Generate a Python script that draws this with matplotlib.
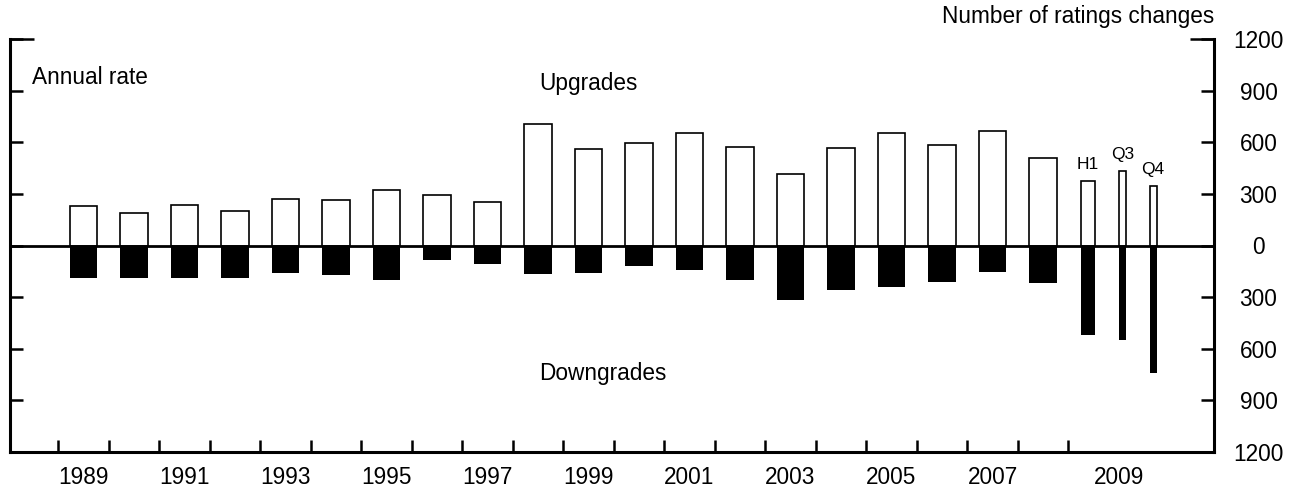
import matplotlib
matplotlib.use("Agg")
import matplotlib.pyplot as plt
import numpy as np

plt.rcParams['font.family'] = ['Liberation Sans', 'DejaVu Sans']

# Annual ratings changes, 1989-2008
years = list(range(1989, 2009))
upgrades = [232, 191, 238, 203, 272, 267, 320, 294, 255, 707,
            560, 595, 654, 572, 413, 568, 656, 585, 666, 510]
downgrades = [186, 191, 186, 191, 162, 174, 200, 87, 108, 166,
              158, 120, 145, 203, 317, 257, 243, 210, 152, 220]

# 2009 sub-periods (annual rates)
period_labels = ['H1', 'Q3', 'Q4']
period_up = [377, 435, 348]
period_down = [522, 551, 742]

year_tick_labels = ['1989', '1991', '1993', '1995', '1997', '1999',
                    '2001', '2003', '2005', '2007', '2009']
y_ticks = [-1200, -900, -600, -300, 0, 300, 600, 900, 1200]

# layout of the 2009 bars (half-year bar is wider than quarters)
period_x = [2008.89, 2009.58, 2010.18]
period_w = [0.28, 0.14, 0.14]

FS = 16.3

fig = plt.figure(figsize=(12.97, 4.87), dpi=100)
ax = fig.add_axes([10 / 1297, 35 / 487, 1204 / 1297, 413 / 487])

ax.bar(years, upgrades, width=0.55, color='white', edgecolor='black', linewidth=1.2, zorder=2)
ax.bar(years, [-d for d in downgrades], width=0.55, color='black', zorder=2)
ax.bar(period_x, period_up, width=period_w, color='white', edgecolor='black', linewidth=1.2, zorder=2)
ax.bar(period_x, [-d for d in period_down], width=period_w, color='black', zorder=2)
ax.axhline(0, color='black', lw=2.0, zorder=3)

for lab, x, v in zip(period_labels, period_x, period_up):
    ax.annotate(lab, (x, v), xytext=(0, 6), textcoords='offset points',
                ha='center', va='bottom', fontsize=12.5)

ax.set_xlim(1987.545, 2011.386)
ax.set_ylim(-1200, 1200)

for s in ['left', 'right', 'bottom']:
    ax.spines[s].set_linewidth(2.2)
ax.spines['top'].set_visible(False)

# x axis: tick marks at year boundaries, labels at odd years
ax.set_xticks(np.arange(1988.5, 2009, 1.0))
ax.set_xticklabels([])
ax.set_xticks([1989, 1991, 1993, 1995, 1997, 1999, 2001, 2003, 2005, 2007, 2009.5], minor=True)
ax.set_xticklabels(year_tick_labels, minor=True)
ax.tick_params(axis='x', which='major', direction='in', length=8.6, width=1.8)
ax.tick_params(axis='x', which='minor', length=0, pad=10, labelsize=FS)

# y axis: ticks on both sides, labels right
ax.yaxis.remove_overlapping_locs = False
ax.set_yticks(y_ticks)
ax.set_yticklabels([str(abs(v)) for v in y_ticks])
ax.set_yticks([1200], minor=True)
ax.tick_params(axis='y', which='major', direction='in', length=9.4, width=1.8,
               left=True, right=True, labelleft=False, labelright=True,
               labelsize=FS, pad=32)
ax.tick_params(axis='y', which='minor', direction='in', length=17, width=1.8,
               left=True, right=True, labelleft=False, labelright=False)
for t in ax.get_yticklabels():
    t.set_horizontalalignment('center')

ax.text(1.0, 1 + 22 / 413, 'Number of ratings changes', transform=ax.transAxes,
        ha='right', va='center', fontsize=FS)
ax.text(22 / 1204, (452 - 77) / 413, 'Annual rate', transform=ax.transAxes,
        ha='left', va='center', fontsize=FS)
ax.text(1998.02, 939, 'Upgrades', ha='left', va='center', fontsize=FS)
ax.text(1998.02, -742, 'Downgrades', ha='left', va='center', fontsize=FS)

fig.savefig('out.png', dpi=100)
